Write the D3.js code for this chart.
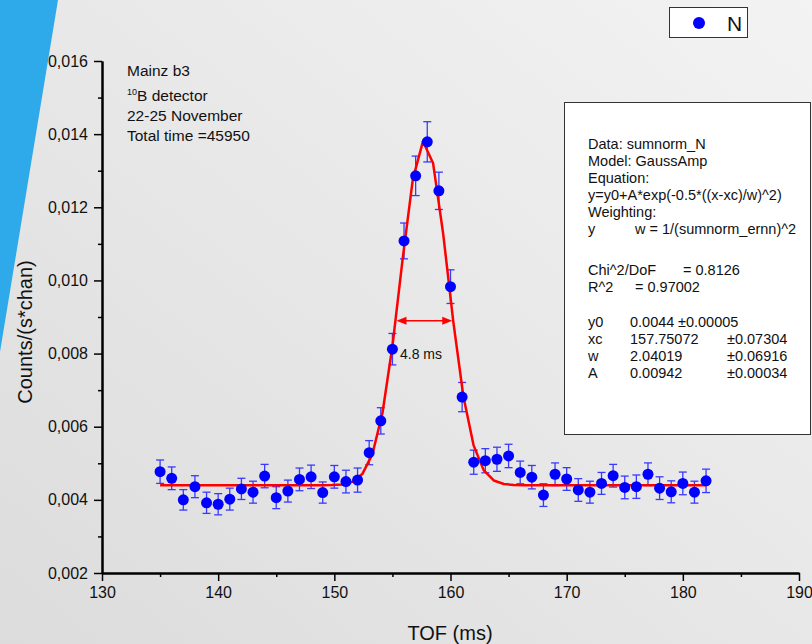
<!DOCTYPE html>
<html>
<head>
<meta charset="utf-8">
<script src="https://cdn.jsdelivr.net/npm/d3@7"></script>
<style>
  html, body { margin: 0; padding: 0; overflow: hidden; }
  svg { display: block; font-family: "Liberation Sans", Arial, sans-serif; }
</style>
</head>
<body>
<div class="js-chart"></div>
<script>
let w = 812;
let h = 644;

// measured points, TOF in ms
let tof = [135, 136, 137, 138, 139, 140, 141, 142, 143, 144, 145, 146, 147, 148, 149, 150,
           151, 152, 153, 154, 155, 156, 157, 158, 159, 160, 161, 162, 163, 164, 165, 166,
           167, 168, 169, 170, 171, 172, 173, 174, 175, 176, 177, 178, 179, 180, 181, 182];
let counts = [0.00477, 0.00459, 0.00400, 0.00436, 0.00392, 0.00388, 0.00402, 0.00430, 0.00421, 0.00465,
              0.00406, 0.00424, 0.00456, 0.00463, 0.00420, 0.00463, 0.00450, 0.00454, 0.00529, 0.00616,
              0.00812, 0.01108, 0.01286, 0.01379, 0.01245, 0.00983, 0.00681, 0.00503, 0.00507, 0.00511,
              0.00520, 0.00475, 0.00462, 0.00413, 0.00470, 0.00457, 0.00427, 0.00421, 0.00445, 0.00466,
              0.00434, 0.00436, 0.00470, 0.00432, 0.00422, 0.00445, 0.00421, 0.00452];
let errors = [0.00032, 0.00031, 0.00028, 0.00030, 0.00029, 0.00029, 0.00030, 0.00029, 0.00030, 0.00032,
              0.00030, 0.00030, 0.00031, 0.00032, 0.00029, 0.00031, 0.00031, 0.00033, 0.00033, 0.00036,
              0.00043, 0.00049, 0.00054, 0.00055, 0.00051, 0.00046, 0.00040, 0.00033, 0.00033, 0.00033,
              0.00032, 0.00031, 0.00032, 0.00031, 0.00031, 0.00031, 0.00031, 0.00030, 0.00030, 0.00031,
              0.00031, 0.00032, 0.00031, 0.00031, 0.00030, 0.00031, 0.00030, 0.00032];

// GaussAmp fit parameters as printed in the results box
let fitY0 = 0.0044;
let fitXc = 157.75072;
let fitW = 2.04019;
let fitA = 0.00942;
let fitRange = [135, 182];
let fitSteps = 54;

let xTicks = [130, 140, 150, 160, 170, 180, 190];
let yTicks = [0.002, 0.004, 0.006, 0.008, 0.010, 0.012, 0.014, 0.016];

let infoLines = ['Mainz b3', 'B detector', '22-25 November', 'Total time =45950'];
let fwhm = {from: 155.35, to: 160.15, level: 0.0089, label: '4.8 ms'};

let statRows = [
  ['Data: sumnorm_N'],
  ['Model: GaussAmp'],
  ['Equation:'],
  ['y=y0+A*exp(-0.5*((x-xc)/w)^2)'],
  ['Weighting:'],
  ['y', 'w = 1/(sumnorm_ernn)^2'],
  ['Chi^2/DoF', '= 0.8126'],
  ['R^2', '=  0.97002'],
  ['y0', '0.0044', '\u00b10.00005'],
  ['xc', '157.75072', '\u00b10.07304'],
  ['w', '2.04019', '\u00b10.06916'],
  ['A', '0.00942', '\u00b10.00034']
];
let statBaselines = [149, 166, 183, 200, 217, 234, 275, 292, 327, 344, 361, 378];
let statColumns = [
  [588], [588], [588], [588], [588], [588, 635],
  [588, 683], [588, 635], [588, 630, 678], [588, 630, 727], [588, 630, 727], [588, 630, 727]
];

let svg = d3.select('.js-chart').append('svg').attr('width', w).attr('height', h);

let grad = svg.append('defs').append('linearGradient')
  .attr('id', 'bg').attr('x1', '0%').attr('y1', '100%').attr('x2', '100%').attr('y2', '0%');
grad.append('stop').attr('offset', '0%').attr('stop-color', '#dcdcdc');
grad.append('stop').attr('offset', '100%').attr('stop-color', '#f3f3f3');
svg.append('rect').attr('width', w).attr('height', h).attr('fill', 'url(#bg)');

svg.append('polygon').attr('points', '0,0 58,0 0,352').attr('fill', '#2ea9e9');

let x = d3.scaleLinear().domain([130, 190]).range([102, 799]);
let y = d3.scaleLinear().domain([0.002, 0.016]).range([573, 61]);

let comma = d3.formatLocale({decimal: ',', thousands: '.', grouping: [3], currency: ['', '']}).format('.3f');

// axes: major ticks with labels, then minor ticks between them
svg.append('g').attr('transform', 'translate(0,573)')
  .call(d3.axisBottom(x).tickValues(xTicks).tickSize(8).tickPadding(6).tickSizeOuter(0));
svg.append('g').attr('transform', 'translate(0,573)')
  .call(d3.axisBottom(x).tickValues(d3.range(135, 190, 10)).tickSize(4).tickFormat('').tickSizeOuter(0));

svg.append('g').attr('transform', 'translate(102,0)')
  .call(d3.axisLeft(y).tickValues(yTicks).tickSize(8).tickPadding(6).tickFormat(comma).tickSizeOuter(0));
svg.append('g').attr('transform', 'translate(102,0)')
  .call(d3.axisLeft(y).tickValues(d3.range(0.003, 0.016, 0.002)).tickSize(4).tickFormat('').tickSizeOuter(0));

svg.selectAll('.domain').attr('stroke', '#000').attr('stroke-width', 2);
svg.selectAll('.tick line').attr('stroke', '#000').attr('stroke-width', 1.5);
svg.selectAll('.tick text').attr('font-size', 16).attr('fill', '#111')
  .attr('font-family', '"Liberation Sans", Arial, sans-serif');

svg.append('text').attr('x', 450).attr('y', 640).attr('text-anchor', 'middle')
  .attr('font-size', 20).attr('fill', '#111').text('TOF (ms)');
svg.append('text').attr('transform', 'translate(32,332) rotate(-90)').attr('text-anchor', 'middle')
  .attr('font-size', 20).attr('fill', '#111').text('Counts/(s*chan)');

// error bars
let bars = svg.append('g').attr('stroke', '#3a3aff').attr('stroke-width', 1.3);
for (let i = 0; i < tof.length; i++) {
  let cx = x(tof[i]);
  let top = y(counts[i] + errors[i]);
  let bottom = y(counts[i] - errors[i]);
  bars.append('line').attr('x1', cx).attr('x2', cx).attr('y1', top).attr('y2', bottom);
  bars.append('line').attr('x1', cx - 4).attr('x2', cx + 4).attr('y1', top).attr('y2', top);
  bars.append('line').attr('x1', cx - 4).attr('x2', cx + 4).attr('y1', bottom).attr('y2', bottom);
}

// fitted curve
let fitX = d3.range(fitSteps + 1).map(k => fitRange[0] + k * (fitRange[1] - fitRange[0]) / fitSteps);
let fitLine = d3.line()
  .x(d => x(d))
  .y(d => y(fitY0 + fitA * Math.exp(-0.5 * Math.pow((d - fitXc) / fitW, 2))));
svg.append('path').datum(fitX).attr('d', fitLine)
  .attr('fill', 'none').attr('stroke', '#ff0000').attr('stroke-width', 2.5).attr('stroke-linejoin', 'round');

svg.append('g').selectAll('circle').data(tof).enter().append('circle')
  .attr('cx', d => x(d))
  .attr('cy', (d, i) => y(counts[i]))
  .attr('r', 5.5)
  .attr('fill', '#0000ff');

// FWHM arrow
let ay = y(fwhm.level);
let x1 = x(fwhm.from);
let x2 = x(fwhm.to);
svg.append('line').attr('x1', x1 + 8).attr('x2', x2 - 8).attr('y1', ay).attr('y2', ay)
  .attr('stroke', '#ff0000').attr('stroke-width', 1.5);
svg.append('path').attr('d', `M${x1},${ay}l10,-4v8z`).attr('fill', '#ff0000');
svg.append('path').attr('d', `M${x2},${ay}l-10,-4v8z`).attr('fill', '#ff0000');
svg.append('text').attr('x', 400).attr('y', 359).attr('font-size', 14).attr('fill', '#111').text(fwhm.label);

// run info
let info = svg.append('g').attr('font-size', 15.5).attr('fill', '#111');
let infoBase = [76, 101, 121, 141];
infoLines.forEach((t, i) => {
  let txt = info.append('text').attr('x', 127).attr('y', infoBase[i]);
  if (i === 1) {
    txt.append('tspan').attr('font-size', 9).attr('dy', -6).text('10');
    txt.append('tspan').attr('dy', 6).text(t);
  } else {
    txt.text(t);
  }
});

// fit results box
svg.append('rect').attr('x', 564.5).attr('y', 102.5).attr('width', 246).attr('height', 332)
  .attr('fill', '#fff').attr('stroke', '#333').attr('stroke-width', 1);
let stats = svg.append('g').attr('font-size', 14.5).attr('fill', '#111');
statRows.forEach((row, i) => {
  row.forEach((t, j) => {
    stats.append('text').attr('x', statColumns[i][j]).attr('y', statBaselines[i]).text(t);
  });
});

// legend
svg.append('rect').attr('x', 669.5).attr('y', 7.5).attr('width', 78).attr('height', 30)
  .attr('fill', '#fff').attr('stroke', '#333').attr('stroke-width', 1);
svg.append('circle').attr('cx', 699).attr('cy', 23).attr('r', 6).attr('fill', '#0000ff');
svg.append('text').attr('x', 727).attr('y', 31).attr('font-size', 21).attr('fill', '#111').text('N');
</script>
</body>
</html>
